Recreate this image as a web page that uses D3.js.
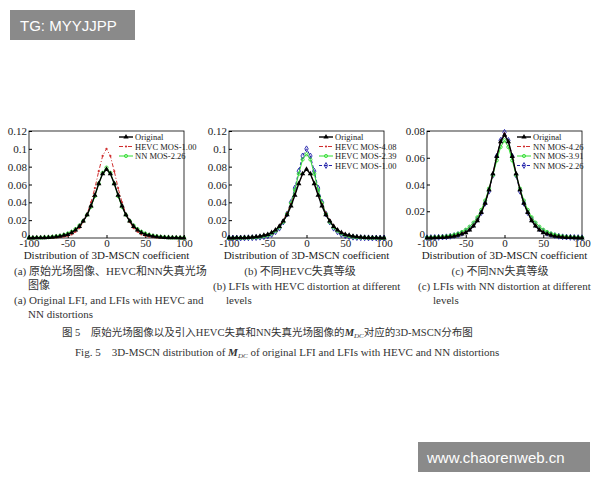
<!DOCTYPE html>
<html><head><meta charset="utf-8">
<script src="https://cdn.jsdelivr.net/npm/d3@7"></script>
<style>
body{margin:0;background:#fff}
text{font-family:"Liberation Serif","Noto Sans CJK SC",serif}
</style></head><body>
<svg id="c" width="600" height="480"></svg>
<script>
var xs = d3.range(-100, 101, 5);
var original = [0.0001,0.0001,0.0002,0.0003,0.0004,0.0006,0.0009,0.0013,0.002,0.003,0.004,0.006,0.009,0.013,0.019,0.026,0.036,0.048,0.061,0.072,0.077,0.072,0.061,0.048,0.036,0.026,0.019,0.013,0.009,0.006,0.004,0.003,0.002,0.0013,0.0009,0.0006,0.0004,0.0003,0.0002,0.0001,0.0001];
var hevc100 = [0,0,0,0,0.0001,0.0002,0.0003,0.0005,0.0009,0.0015,0.0025,0.004,0.007,0.011,0.018,0.027,0.040,0.056,0.075,0.092,0.100,0.092,0.075,0.056,0.040,0.027,0.018,0.011,0.007,0.004,0.0025,0.0015,0.0009,0.0005,0.0003,0.0002,0.0001,0,0,0,0];
var hevc239 = [0,0,0.0001,0.0002,0.0003,0.0004,0.0006,0.0009,0.0014,0.0022,0.0033,0.005,0.008,0.012,0.018,0.027,0.039,0.054,0.072,0.088,0.094,0.088,0.072,0.054,0.039,0.027,0.018,0.012,0.008,0.005,0.0033,0.0022,0.0014,0.0009,0.0006,0.0004,0.0003,0.0002,0.0001,0,0];
var hevc408 = [0.0001,0.0001,0.0002,0.0003,0.0005,0.0007,0.001,0.0015,0.0022,0.0032,0.0045,0.0065,0.0095,0.014,0.020,0.028,0.038,0.049,0.061,0.072,0.077,0.072,0.061,0.049,0.038,0.028,0.020,0.014,0.0095,0.0065,0.0045,0.0032,0.0022,0.0015,0.001,0.0007,0.0005,0.0003,0.0002,0.0001,0.0001];
var nn226 = [0.0002,0.0003,0.0004,0.0005,0.0007,0.0009,0.0013,0.0018,0.0025,0.0035,0.005,0.007,0.010,0.014,0.019,0.026,0.035,0.047,0.061,0.073,0.079,0.073,0.061,0.047,0.035,0.026,0.019,0.014,0.010,0.007,0.005,0.0035,0.0025,0.0018,0.0013,0.0009,0.0007,0.0005,0.0004,0.0003,0.0002];
var nn426 = [0.0001,0.0002,0.0003,0.0004,0.0005,0.0007,0.001,0.0015,0.0022,0.0032,0.0045,0.0065,0.0095,0.0135,0.019,0.026,0.036,0.048,0.061,0.072,0.078,0.072,0.061,0.048,0.036,0.026,0.019,0.0135,0.0095,0.0065,0.0045,0.0032,0.0022,0.0015,0.001,0.0007,0.0005,0.0004,0.0003,0.0002,0.0001];
var nn391 = [0.0003,0.0004,0.0005,0.0007,0.0009,0.0012,0.0017,0.0024,0.0033,0.0045,0.0062,0.0085,0.0115,0.0155,0.021,0.028,0.037,0.047,0.058,0.068,0.073,0.068,0.058,0.047,0.037,0.028,0.021,0.0155,0.0115,0.0085,0.0062,0.0045,0.0033,0.0024,0.0017,0.0012,0.0009,0.0007,0.0005,0.0004,0.0003];

var sOrig = {name:'Original', v:original, color:'#000', dash:null, mark:'tri', w:1.4};
var panels = [
  {x0:29, yMax:0.12, yTicks:[0,0.02,0.04,0.06,0.08,0.1,0.12],
   series:[sOrig,
     {name:'HEVC MOS-1.00', v:hevc100, color:'#d03030', dash:'4,2,1,2', mark:'x'},
     {name:'NN MOS-2.26', v:nn226, color:'#33dd33', dash:null, mark:'circ'}]},
  {x0:229, yMax:0.12, yTicks:[0,0.02,0.04,0.06,0.08,0.1,0.12],
   series:[sOrig,
     {name:'HEVC MOS-4.08', v:hevc408, color:'#d03030', dash:'4,2,1,2', mark:'x'},
     {name:'HEVC MOS-2.39', v:hevc239, color:'#33dd33', dash:null, mark:'circ'},
     {name:'HEVC MOS-1.00', v:hevc100, color:'#2222aa', dash:'3,2', mark:'dia'}]},
  {x0:427, yMax:0.08, yTicks:[0,0.02,0.04,0.06,0.08],
   series:[sOrig,
     {name:'NN MOS-4.26', v:nn426, color:'#d03030', dash:'4,2,1,2', mark:'x'},
     {name:'NN MOS-3.91', v:nn391, color:'#33dd33', dash:null, mark:'circ'},
     {name:'NN MOS-2.26', v:nn226, color:'#2222aa', dash:'3,2', mark:'dia'}]}
];

var svg = d3.select('#c');
var W = 155, T0 = 131, H = 107;

function marker(g, m, color, x, y) {
  if (m == 'tri') g.append('path').attr('d', d3.symbol(d3.symbolTriangle, 12)()).attr('transform','translate('+x+','+y+')').attr('fill', color);
  else if (m == 'circ') g.append('circle').attr('cx',x).attr('cy',y).attr('r',1.6).attr('fill','none').attr('stroke',color).attr('stroke-width',0.9);
  else if (m == 'dia') g.append('path').attr('d', d3.symbol(d3.symbolDiamond, 10)()).attr('transform','translate('+x+','+y+')').attr('fill','none').attr('stroke',color).attr('stroke-width',0.9);
  else g.append('circle').attr('cx',x).attr('cy',y).attr('r',1.1).attr('fill',color);
}

panels.forEach(function(p){
  var x = d3.scaleLinear().domain([-100,100]).range([p.x0, p.x0+W]);
  var y = d3.scaleLinear().domain([0,p.yMax]).range([T0+H, T0]);
  var g = svg.append('g');
  g.append('rect').attr('x',p.x0).attr('y',T0).attr('width',W).attr('height',H).attr('fill','#fff').attr('stroke','#000').attr('stroke-width',0.8);
  var ax = g.append('g').attr('transform','translate(0,'+(T0+H)+')')
    .call(d3.axisBottom(x).tickValues([-100,-50,0,50,100]).tickSize(-3).tickPadding(1).tickFormat(function(d){return String(d);}));
  var ay = g.append('g').attr('transform','translate('+p.x0+',0)')
    .call(d3.axisLeft(y).tickValues(p.yTicks).tickSize(-3).tickPadding(2).tickFormat(function(d){return String(+d.toFixed(2));}));
  [ax, ay].forEach(function(a){ a.select('.domain').remove(); a.selectAll('text').attr('font-size',11).attr('fill','#222').style('font-family','Liberation Serif, serif'); a.selectAll('line').attr('stroke','#000'); });
  ay.selectAll('.tick').filter(function(d){return d === 0;}).select('text').attr('dy','-0.05em');
  var line = d3.line().x(function(d,i){return x(xs[i]);}).y(function(d){return y(d);});
  p.series.slice().reverse().forEach(function(s){
    g.append('path').datum(s.v).attr('d',line).attr('fill','none').attr('stroke',s.color).attr('stroke-width',s.w||1).attr('stroke-dasharray',s.dash);
    s.v.forEach(function(d,i){ marker(g, s.mark, s.color, x(xs[i]), y(d)); });
  });
  // legend
  p.series.forEach(function(s,i){
    var ly = T0 + 6 + i*9.5, lx = p.x0 + 90;
    g.append('line').attr('x1',lx).attr('x2',lx+14).attr('y1',ly).attr('y2',ly).attr('stroke',s.color).attr('stroke-width',s.w||1).attr('stroke-dasharray',s.dash);
    marker(g, s.mark, s.color, lx+7, ly);
    g.append('text').attr('x',lx+16).attr('y',ly+3).attr('font-size',8.5).attr('fill','#222').text(s.name);
  });
  g.append('text').attr('x',p.x0+W/2).attr('y',259).attr('text-anchor','middle').attr('font-size',11).attr('fill','#222').text('Distribution of 3D-MSCN coefficient');
});

function txt(x, y, s, size, anchor) {
  return svg.append('text').attr('x',x).attr('y',y).attr('font-size',size||11).attr('fill','#333').attr('text-anchor',anchor||'start').text(s);
}
txt(14,275,'(a) 原始光场图像、HEVC和NN失真光场');
txt(28,289,'图像');
txt(14,304,'(a) Original LFI, and LFIs with HEVC and');
txt(28,318,'NN distortions');
txt(300,275,'(b) 不同HEVC失真等级',11,'middle');
txt(213,290,'(b) LFIs with HEVC distortion at different');
txt(226,304,'levels');
txt(500,275,'(c) 不同NN失真等级',11,'middle');
txt(418,290,'(c) LFIs with NN distortion at different');
txt(433,304,'levels');

var c1 = txt(62,336,'图 5　原始光场图像以及引入HEVC失真和NN失真光场图像的',10.5);
c1.append('tspan').attr('font-style','italic').attr('font-weight','bold').text('M');
c1.append('tspan').attr('font-size',7).attr('font-style','italic').attr('dy',2).text('DC');
c1.append('tspan').attr('dy',-2).text('对应的3D-MSCN分布图');
var c2 = txt(75,356,'Fig. 5　3D-MSCN distribution of ',11);
c2.append('tspan').attr('font-style','italic').attr('font-weight','bold').text('M');
c2.append('tspan').attr('font-size',7).attr('font-style','italic').attr('dy',2).text('DC');
c2.append('tspan').attr('dy',-2).text(' of original LFI and LFIs with HEVC and NN distortions');

svg.append('rect').attr('x',10).attr('y',10).attr('width',125).attr('height',30).attr('fill','#8a8a8a');
svg.append('text').attr('x',20).attr('y',31).style('font-family','Liberation Sans, sans-serif').attr('font-size',15).attr('fill','#fff').text('TG: MYYJJPP');
svg.append('rect').attr('x',418).attr('y',442).attr('width',172).attr('height',30).attr('fill','#8a8a8a');
svg.append('text').attr('x',427).attr('y',463).style('font-family','Liberation Sans, sans-serif').attr('font-size',15).attr('fill','#fff').text('www.chaorenweb.cn');
</script></body></html>
